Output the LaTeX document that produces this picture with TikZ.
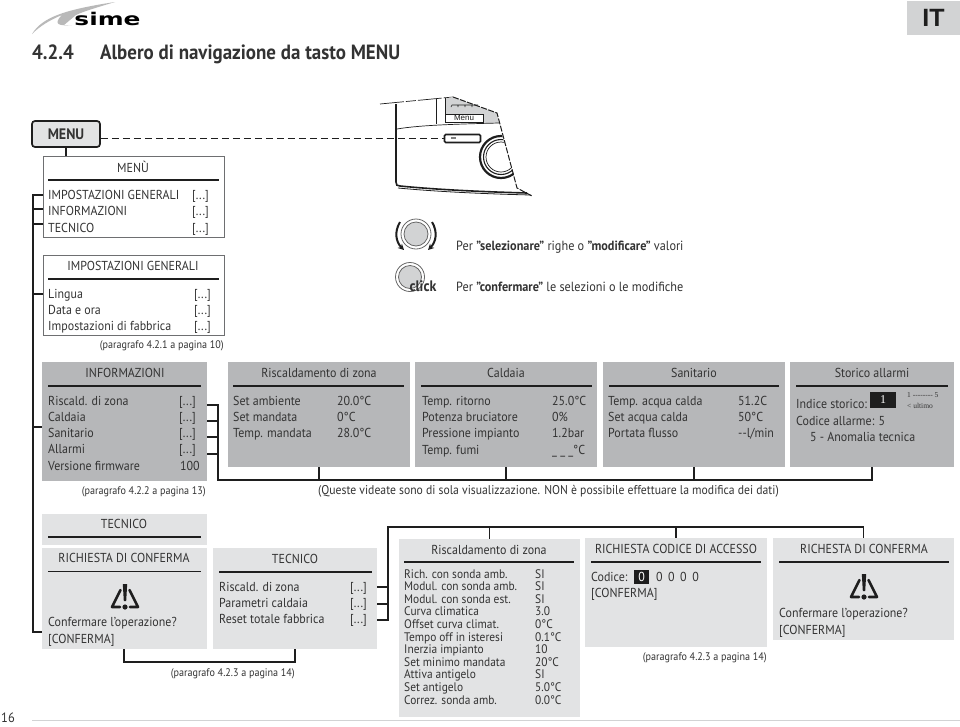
\documentclass[tikz,border=0pt]{standalone}
\usepackage{fontspec}
\setmainfont[FakeStretch=0.92]{PT Sans}
\newfontfamily\logofont{DejaVu Sans}
\newfontfamily\serifx{Liberation Serif}
\usetikzlibrary{calc,arrows.meta}
\definecolor{ink}{HTML}{333333}
\definecolor{gA}{HTML}{B6B7B9}
\definecolor{gB}{HTML}{E2E3E4}
\definecolor{gC}{HTML}{D2D3D4}
\definecolor{edge}{HTML}{6E6F71}
\definecolor{lineK}{HTML}{1E1E1E}
\newcounter{tn}
\newcommand{\bodyf}{\fontsize{13}{14}\selectfont}
\newcommand{\smallf}{\fontsize{13.3}{14}\selectfont}
\tikzset{
  x=1pt,y=-1pt,
  txt/.style={inner sep=0,yshift=-1pt,text height=9pt,text depth=3pt,text=ink,font=\bodyf},
  rulex/.style={draw=lineK,line width=1.9pt},
  conn/.style={draw=lineK,line width=1.9pt},
  boxwhite/.style={draw=edge,line width=0.9pt,fill=white,inner sep=0},
  boxdark/.style={fill=gA,inner sep=0},
  boxlight/.style={fill=gB,inner sep=0},
}
\newcommand{\bx}[6]{\node[#6,minimum width={(#4-#2)*1pt},minimum height={(#5-#3)*1pt}] (#1) at ({(#2+#4)/2},{(#3+#5)/2}) {};}
\newcommand{\tl}[3]{\stepcounter{tn}\node[txt,anchor=west] (t\arabic{tn}) at (#1,#2) {#3};}
\newcommand{\tc}[3]{\stepcounter{tn}\node[txt,anchor=center] (t\arabic{tn}) at (#1,#2) {#3};}
\newcommand{\parax}[3]{\stepcounter{tn}\node[txt,anchor=east,font=\fontsize{11}{13}\selectfont] (t\arabic{tn}) at (#1,#2) {#3};}
\newcommand{\warn}[2]{\begin{scope}[shift={(#1,#2)}]
  \draw[lineK,line width=2.6pt,line join=round,line cap=round] (-4.5,-7) -- (-13,10) -- (-5,10);
  \draw[lineK,line width=2.6pt,line join=round,line cap=round] (4.5,-7) -- (13,10) -- (5,10);
  \fill[lineK] (-2.2,-13) -- (2.2,-13) -- (1.2,4) -- (-1.2,4) -- cycle;
  \fill[lineK] (0,10) circle (2.6);
\end{scope}}
\begin{document}
\begin{tikzpicture}
\useasboundingbox (0,0) rectangle (960,726);
\fill[white] (0,0) rectangle (960,726);

% header
\fill[gray!55] (32,34) .. controls (42,18) and (62,10) .. (115,2) .. controls (95,8) and (82,12) .. (76,15) -- (64,25) -- (72,25) .. controls (60,26) and (52,25) .. (62,15) .. controls (50,20) and (40,26) .. (32,34) -- cycle;
\node[inner sep=0,font=\logofont\bfseries\fontsize{17.5}{17}\selectfont,text=black,xscale=1.42] (logo) at (107.5,19) {sime};
\node[inner sep=0,anchor=base west,font=\bfseries\fontsize{20.6}{20}\selectfont,text=ink] (secnum) at (32,59) {4.2.4};
\node[inner sep=0,anchor=base west,font=\bfseries\fontsize{20.6}{20}\selectfont,text=ink] (sectitle) at (100,59) {Albero di navigazione da tasto MENU};
\node[fill=gC,inner sep=0,minimum width=53pt,minimum height=34pt,text=lineK] (itbox) at (933.5,18) {\fontspec{Liberation Sans}\fontsize{25}{25}\selectfont\bfseries IT};
\node[inner sep=0,font=\fontsize{13.5}{14}\selectfont,text=ink] (pagenum) at (8,718) {16};
\draw[gC,line width=1pt] (32,720) -- (960,720);

% panel sketch
\draw[lineK,line width=0.7pt,dash pattern=on 24pt off 2pt on 10pt off 2pt] (380,104) -- (453,97);
\fill[gC] (437,100) -- (453,97) -- (497,113) -- (499,123) -- (437,122) -- cycle;
\fill[white] (437,99) rectangle (445,125);
\draw[lineK,line width=0.6pt] (436,99) -- (436,124) (445,98) -- (445,123);
\draw[lineK,line width=0.6pt] (451,107) -- (452,105) -- (478,105) (458,105)--(458,107) (465,105)--(465,107) (472,105)--(472,107);
\node[draw=lineK,line width=0.7pt,fill=white,inner sep=0,minimum width=38pt,minimum height=8pt,text=lineK] (menulbl) at (464,118) {\fontspec{Liberation Sans}\fontsize{8}{8}\selectfont Menu};
\draw[lineK,line width=0.7pt] (397,129) .. controls (420,125) and (460,124) .. (499,123);
\draw[lineK,line width=1.6pt] (396,104) -- (396,182) .. controls (396,185) and (397,186) .. (400,186) .. controls (440,190) and (490,192) .. (527,193);
\draw[lineK,line width=0.8pt] (398,188) .. controls (440,192) and (490,194) .. (531,195);
\draw[lineK,line width=1pt,dash pattern=on 6pt off 1.5pt] (453,97) -- (497,113) -- (517,188) -- (532,196);
\node[draw=lineK,line width=1.6pt,fill=white,inner sep=0,minimum width=36pt,minimum height=8pt,rounded corners=1.2pt] (menubtn) at (462.5,138.5) {};
\fill[gray] (451,137) rectangle (456,139);
\begin{scope}
\clip (470,125) -- (499,125) -- (515.5,180) -- (470,180) -- cycle;
\draw[lineK,line width=2.2pt] (501,157) circle (21);
\draw[lineK,line width=1.1pt] (501,157) circle (17.5);
\draw[lineK,line width=0.7pt] (501,157) circle (15);
\end{scope}

% dial icons
\node[circle,draw=gray!80!black,line width=0.8pt,fill=white,minimum size=30pt,inner sep=0] (dial) at (416,234) {};
\node[circle,draw=gray!80!black,line width=0.8pt,fill=gC,minimum size=24pt,inner sep=0] (dialin) at (416,234) {};
\draw[lineK,line width=2pt,-{Stealth[length=6pt,width=6pt]}] (400,222) .. controls (394,232) and (396,242) .. (404,250);
\draw[lineK,line width=2pt,-{Stealth[length=6pt,width=6pt]}] (432,222) .. controls (438,232) and (436,242) .. (428,250);
\node[circle,draw=gray!80!black,line width=0.8pt,fill=white,minimum size=29pt,inner sep=0] (clk) at (410,277) {};
\node[circle,draw=gray!80!black,line width=0.8pt,fill=gC,minimum size=23pt,inner sep=0] (clkin) at (410,277) {};
\node[inner sep=0,font=\bfseries\fontsize{15.2}{15}\selectfont,text=ink] (clicktext) at (423,286) {click};
\tl{456}{246}{\smallf Per \textbf{"selezionare"} righe o \textbf{"modificare"} valori}
\tl{456}{287}{\smallf Per \textbf{"confermare"} le selezioni o le modifiche}

% boxes
\bx{mb}{43}{156}{224}{237}{boxwhite}
\bx{ig}{43}{255}{224}{335}{boxwhite}
\bx{inf}{42}{362}{207}{481}{boxdark}
\bx{rz}{228}{362}{410}{467}{boxdark}
\bx{cal}{415}{362}{597}{467}{boxdark}
\bx{san}{603}{362}{785}{467}{boxdark}
\bx{sto}{790}{362}{954}{467}{boxdark}
\bx{tec}{42}{514}{207}{545}{boxlight}
\bx{ric}{42}{548}{207}{649}{boxlight}
\bx{tec2}{213}{548}{377}{649}{boxlight}
\bx{rz2}{399}{539}{580}{717}{boxlight}
\bx{cod}{585}{538}{767}{647}{boxlight}
\bx{ric2}{773}{538}{954}{640}{boxlight}

% MENU button
\node[draw=lineK,line width=1.7pt,fill=gB,rounded corners=3pt,inner sep=0,minimum width=68pt,minimum height=26pt,font=\bfseries\fontsize{15.2}{15}\selectfont,text=ink] (menu) at (66,134) {MENU};
\draw[lineK,line width=1.9pt,dash pattern=on 7pt off 4pt] (menu.east |- menubtn) -- (menubtn.west);
\draw[conn] (menu.south) -- (menu.south |- mb.north);

% rules
\foreach \xa/\xb/\yy in {48/219/180,48/219/279,48/201/386,233/404/386,421/592/386,609/779/386,796/948/386,48/201/537,48/201/571.5,219/372/572,404/574/562,591/761/562,779/949/562}
  \draw[rulex] (\xa,\yy) -- (\xb,\yy);

% MENU box
\tc{133}{168}{MENÙ}
\tl{48}{195}{IMPOSTAZIONI GENERALI}\tl{192}{195}{[...]}
\tl{48}{211}{INFORMAZIONI}\tl{192}{211}{[...]}
\tl{48}{228}{TECNICO}\tl{192}{228}{[...]}
% Impostazioni
\tc{133}{266}{IMPOSTAZIONI GENERALI}
\tl{48}{294}{Lingua}\tl{194}{294}{[...]}
\tl{48}{310}{Data e ora}\tl{194}{310}{[...]}
\tl{48}{326}{Impostazioni di fabbrica}\tl{194}{326}{[...]}
\parax{224}{344}{(paragrafo 4.2.1 a pagina 10)}
% Informazioni
\tc{125}{373}{INFORMAZIONI}
\tl{48}{401}{Riscald. di zona}\tl{179}{401}{[...]}
\tl{48}{417}{Caldaia}\tl{179}{417}{[...]}
\tl{48}{433}{Sanitario}\tl{179}{433}{[...]}
\tl{48}{449}{Allarmi}\tl{179}{449}{[...]}
\tl{48}{466}{Versione firmware}\tl{180}{466}{100}
\parax{206}{490}{(paragrafo 4.2.2 a pagina 13)}
% Riscaldamento
\tc{319}{373}{Riscaldamento di zona}
\tl{233}{401}{Set ambiente}\tl{337}{401}{20.0°C}
\tl{233}{417}{Set mandata}\tl{337}{417}{0°C}
\tl{233}{433}{Temp. mandata}\tl{337}{433}{28.0°C}
% Caldaia
\tc{506}{373}{Caldaia}
\tl{422}{401}{Temp. ritorno}\tl{552}{401}{25.0°C}
\tl{422}{417}{Potenza bruciatore}\tl{552}{417}{0\%}
\tl{422}{433}{Pressione impianto}\tl{552}{433}{1.2bar}
\tl{422}{450}{Temp. fumi}\tl{552}{450}{\_ \_ \_°C}
% Sanitario
\tc{694}{373}{Sanitario}
\tl{608}{401}{Temp. acqua calda}\tl{738}{401}{51.2C}
\tl{608}{417}{Set acqua calda}\tl{738}{417}{50°C}
\tl{608}{433}{Portata flusso}\tl{738}{433}{-{}-l/min}
% Storico
\tc{872}{373}{Storico allarmi}
\tl{796}{404}{Indice storico:}
\node[fill=lineK,inner sep=0,minimum width=26pt,minimum height=16pt,text=white,font=\serifx\fontsize{12}{12}\selectfont] (idx) at (883,400) {1};
\node[inner sep=0,anchor=west,text=ink,font=\serifx\fontsize{7.5}{8}\selectfont] (rng) at (907,395) {1 -------- 5};
\node[inner sep=0,anchor=west,text=ink,font=\serifx\fontsize{7.5}{8}\selectfont] (ult) at (907,406) {< ultimo};
\tl{796}{421}{Codice allarme: 5}
\tl{810}{437}{5 - Anomalia tecnica}
\parax{779}{490}{\fontsize{12.7}{13}\selectfont (Queste videate sono di sola visualizzazione. NON è possibile effettuare la modifica dei dati)}
% Tecnico
\tc{124}{524}{TECNICO}
\tc{124}{558}{RICHIESTA DI CONFERMA}
\warn{125}{597}
\tl{48}{622}{Confermare l’operazione?}
\tl{48}{639}{[CONFERMA]}
\tc{295}{559}{TECNICO}
\tl{219}{587}{Riscald. di zona}\tl{350}{587}{[...]}
\tl{219}{603}{Parametri caldaia}\tl{350}{603}{[...]}
\tl{219}{619}{Reset totale fabbrica}\tl{350}{619}{[...]}
\parax{295}{672}{(paragrafo 4.2.3 a pagina 14)}
% Riscaldamento 2
\tc{489}{550}{Riscaldamento di zona}
\foreach \yy/\aa/\bb in {574/Rich. con sonda amb./SI,586.6/Modul. con sonda amb./SI,599.2/Modul. con sonda est./SI,611.8/Curva climatica/3.0,624.4/Offset curva climat./0°C,637/Tempo off in isteresi/0.1°C,649.6/Inerzia impianto/10,662.2/Set minimo mandata/20°C,674.8/Attiva antigelo/SI,687.4/Set antigelo/5.0°C,700/Correz. sonda amb./0.0°C}{
  \tl{404}{\yy}{\fontsize{12.4}{13}\selectfont\aa}\tl{535}{\yy}{\fontsize{12.4}{13}\selectfont\bb}
}
% Codice
\tc{676}{549}{RICHIESTA CODICE DI ACCESSO}
\tl{591}{577}{Codice:}
\node[fill=lineK,inner sep=0,minimum width=15pt,minimum height=14pt,text=white,font=\bodyf] (cod0) at (641.5,577) {0};
\tl{656}{577}{0\hspace{5.5pt}0\hspace{5.5pt}0\hspace{5.5pt}0}
\tl{591}{593}{[CONFERMA]}
\parax{767}{656}{(paragrafo 4.2.3 a pagina 14)}
% Richiesta 2
\tc{864}{549}{RICHESTA DI CONFERMA}
\warn{864}{587}
\tl{779}{613}{Confermare l’operazione?}
\tl{779}{630}{[CONFERMA]}

% connectors
\coordinate (tkA) at (33,195);
\coordinate (tkB) at (33,209);
\coordinate (tkC) at (33,224);
\coordinate (tkD) at (33,294);
\coordinate (tkE) at (33,427);
\coordinate (tkF) at (33,632);
\draw[conn,line join=miter] (mb.west |- tkA) -- (tkA) -- (tkF) -- (tkF -| ric.west);
\draw[conn] (tkB) -- (tkB -| mb.west);
\draw[conn] (tkC) -- (tkC -| mb.west);
\draw[conn] (tkD) -- (tkD -| ig.west);
\draw[conn] (tkE) -- (tkE -| inf.west);
\coordinate (bA) at (218,405);
\coordinate (bB) at (218,421);
\coordinate (bC) at (218,437);
\coordinate (bD) at (218,454);
\coordinate (bE) at (218,480);
\draw[conn] (bA -| inf.east) -- (bA) -- (bE) -- (sto.south |- bE) -- (sto.south);
\draw[conn] (bB -| inf.east) -- (bB);
\draw[conn] (bC -| inf.east) -- (bC);
\draw[conn] (bD -| inf.east) -- (bD);
\draw[conn] (rz.south) -- (rz.south |- bE);
\draw[conn] (cal.south) -- (cal.south |- bE);
\draw[conn] (san.south) -- (san.south |- bE);
\coordinate (cA) at (124,662);
\draw[conn] (cA |- ric.south) -- (cA) -- (tec2.south |- cA) -- (tec2.south);
\coordinate (dA) at (388,587);
\coordinate (dB) at (388,604);
\coordinate (dC) at (388,620);
\coordinate (dT) at (388,527);
\draw[conn] (dC -| tec2.east) -- (dC) -- (dT) -- (ric2.north |- dT) -- (ric2.north);
\draw[conn] (dA -| tec2.east) -- (dA);
\draw[conn] (dB -| tec2.east) -- (dB);
\draw[conn] (rz2.north) -- (rz2.north |- dT);
\draw[conn] (cod.north) -- (cod.north |- dT);
\end{tikzpicture}
\end{document}
